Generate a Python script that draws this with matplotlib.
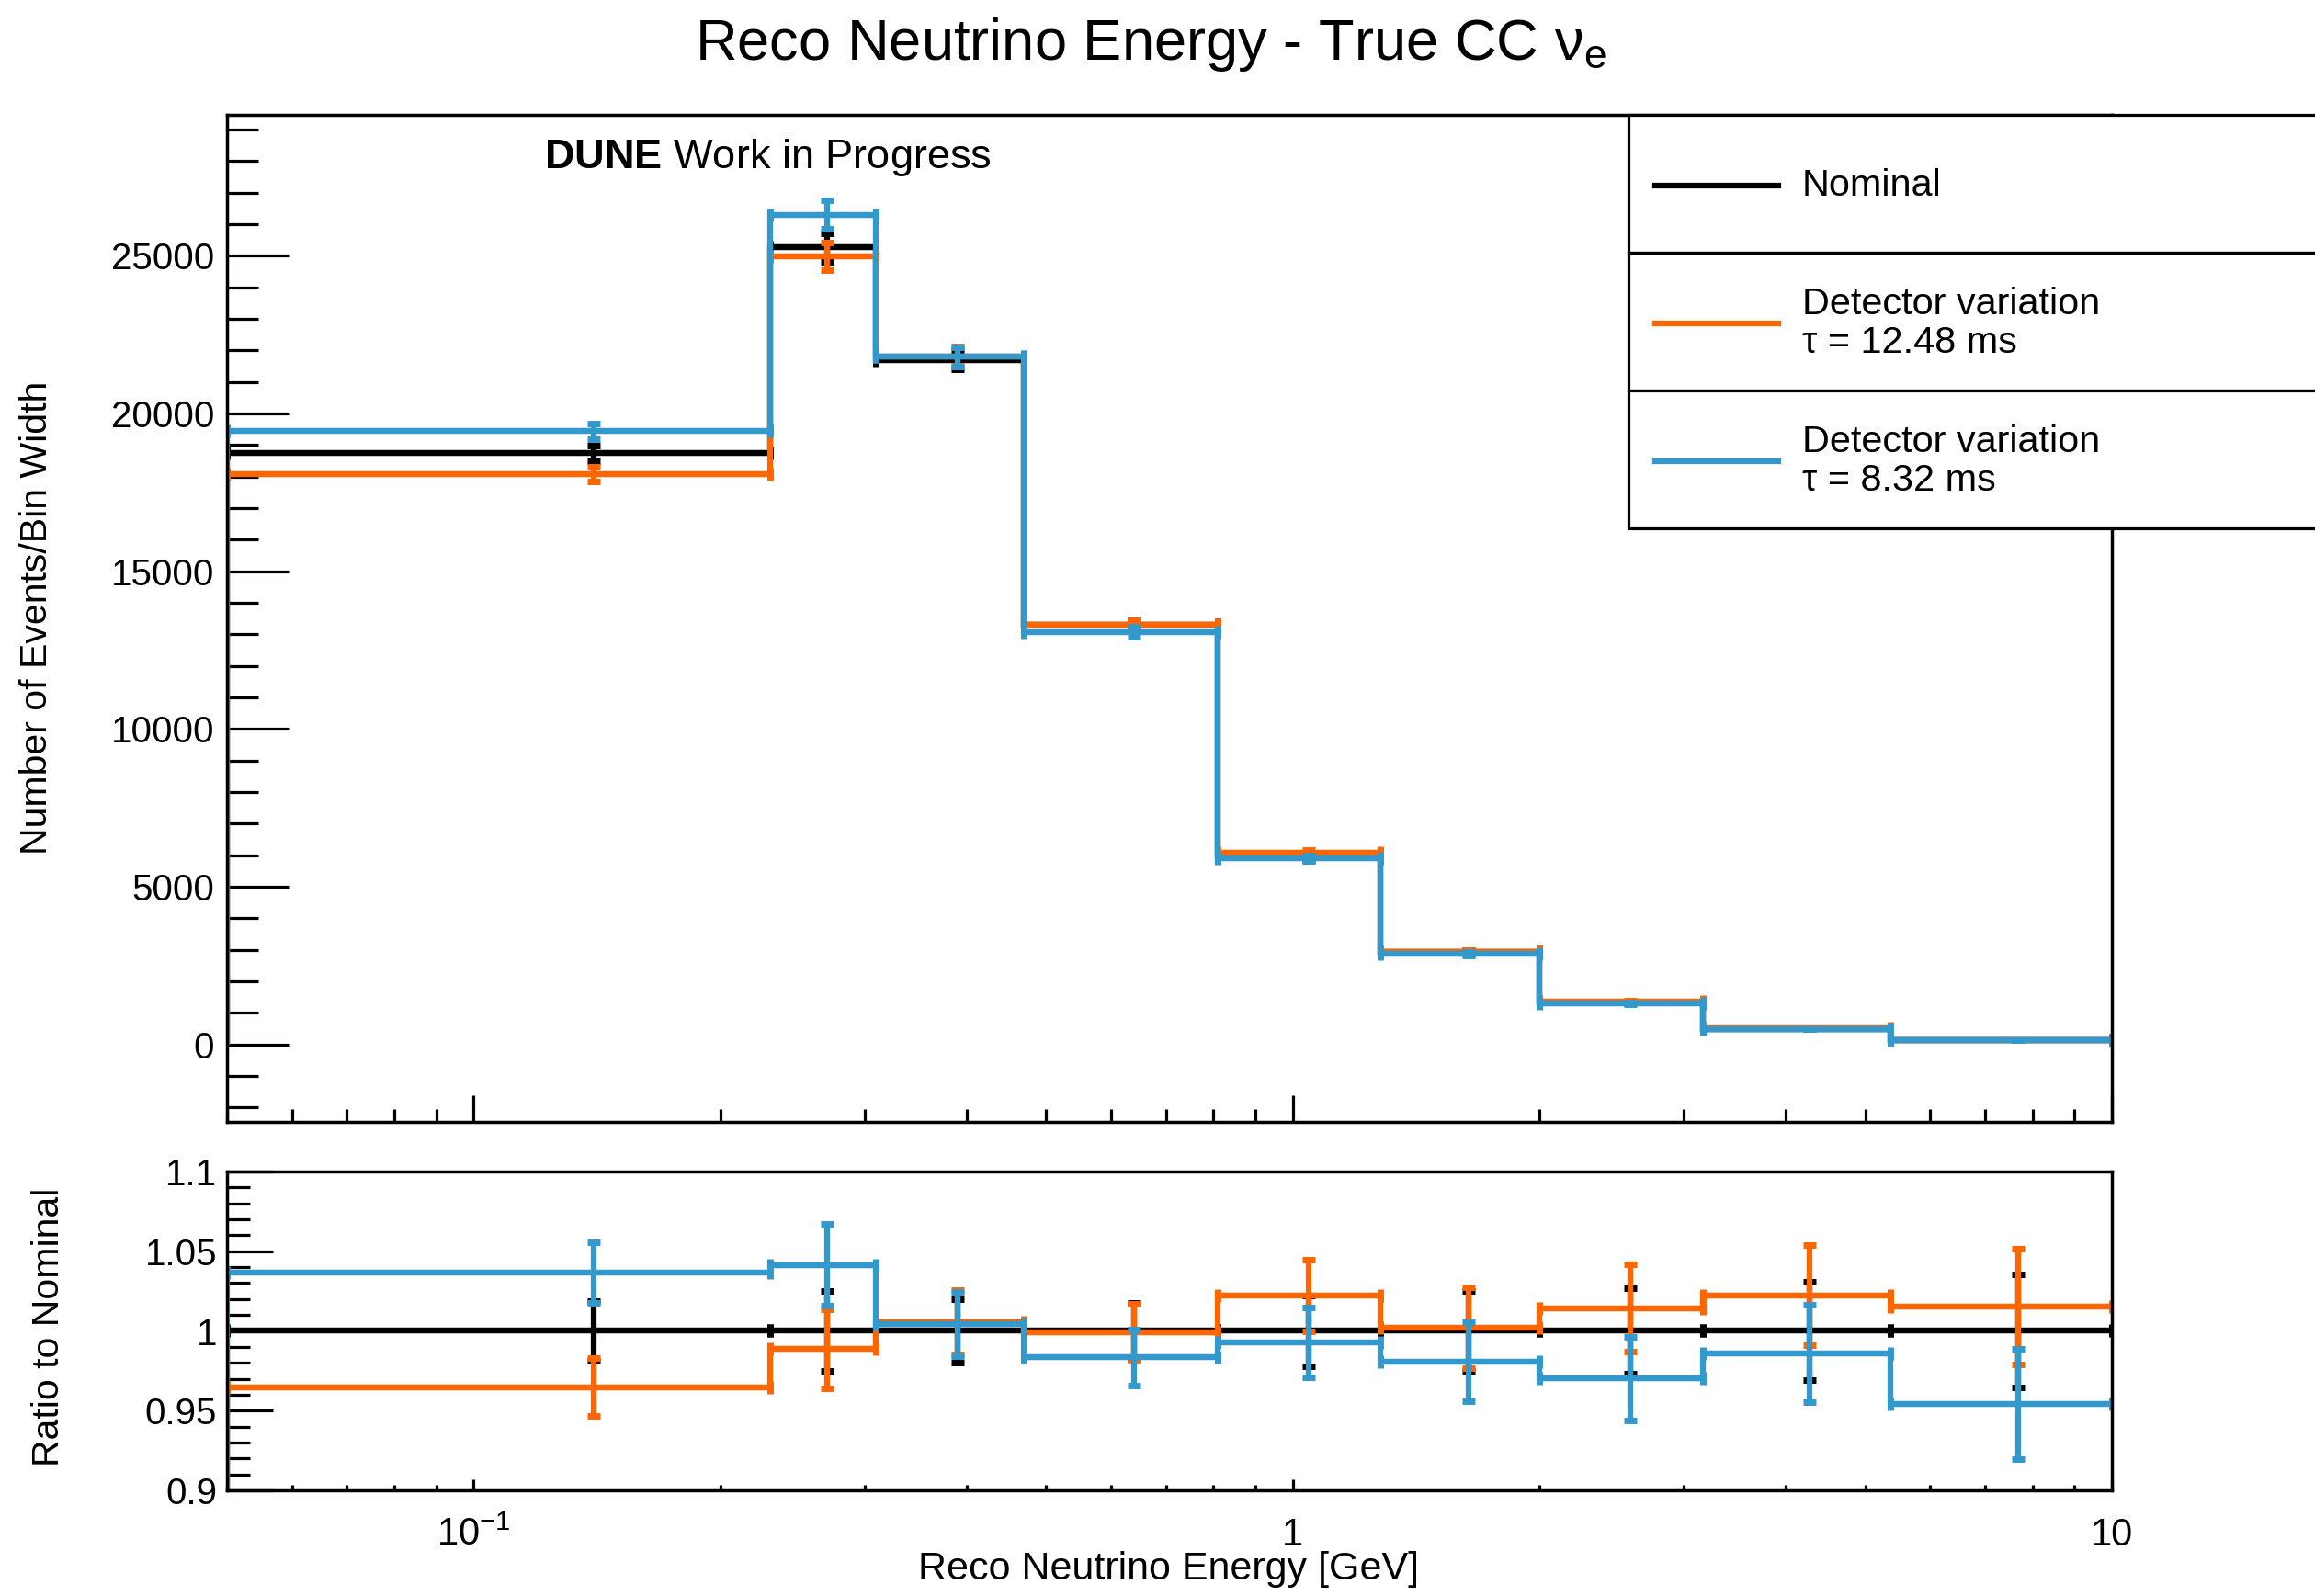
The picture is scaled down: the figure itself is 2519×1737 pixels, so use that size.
import numpy as np
import matplotlib
matplotlib.use("Agg")
from matplotlib import pyplot as plt
from matplotlib.ticker import FixedLocator, FixedFormatter, MultipleLocator, LogLocator, NullFormatter
from matplotlib.patches import Rectangle
from matplotlib.lines import Line2D

plt.rcParams['font.family'] = ['Liberation Sans', 'DejaVu Sans']
plt.rcParams['mathtext.fontset'] = 'custom'
plt.rcParams['mathtext.rm'] = 'Liberation Sans'
plt.rcParams['mathtext.it'] = 'Liberation Sans:italic'
plt.rcParams['mathtext.bf'] = 'Liberation Sans:bold'

# bins in reco energy [GeV]
edges = [0.05, 0.23, 0.31, 0.47, 0.81, 1.28, 2.0, 3.17, 5.37, 10.0]

# events / bin width
nominal = [18744, 25260, 21700, 13300, 5950, 2925, 1335, 491, 131]
nominal_err = [246, 447, 306, 165, 93, 52, 25.5, 10.7, 3.3]

tau_long = [18082, 24977, 21819, 13292, 6081, 2931, 1354, 502, 133]      # tau = 12.48 ms
tau_long_err = [242, 444, 307, 165, 94, 52, 25.7, 10.8, 3.4]

tau_short = [19434, 26306, 21795, 13078, 5907, 2869, 1295, 484, 125]     # tau = 8.32 ms
tau_short_err = [250, 456, 307, 164, 93, 51.5, 25.1, 10.6, 3.3]

c_nom = 'black'
c_long = '#ff6600'
c_short = '#3399cc'

W, H = 2519, 1737
fig = plt.figure(figsize=(W / 100, H / 100), dpi=100)

def fx(px):
    return px / W

def fy(py):
    return 1 - py / H

ax1 = fig.add_axes([fx(247), fy(1221), fx(2298 - 247), (1221 - 125) / H])
ax2 = fig.add_axes([fx(247), fy(1622), fx(2298 - 247), (1622 - 1275) / H])

e = np.array(edges)
centers = 0.5 * (e[1:] + e[:-1])
halfw = 0.5 * (e[1:] - e[:-1])
lw = 4.5


def draw(ax, vals, errs, color):
    # ROOT style: outline rises from zero at the first edge, no drop at the last one
    ax.stairs(vals, e, baseline=None, color=color, lw=lw, zorder=3)
    ax.vlines(e[0], 0, vals[0], color=color, lw=lw, zorder=3)
    ax.errorbar(centers, vals, xerr=halfw, yerr=errs, fmt='none', ecolor=color,
                elinewidth=lw, capsize=5, capthick=5, zorder=3)


nom = np.array(nominal, float)
nom_e = np.array(nominal_err, float)

draw(ax1, nominal, nominal_err, c_nom)
draw(ax1, tau_long, tau_long_err, c_long)
draw(ax1, tau_short, tau_short_err, c_short)

# ratio to nominal
for vals, errs, col in [(nominal, nominal_err, c_nom),
                        (tau_long, tau_long_err, c_long),
                        (tau_short, tau_short_err, c_short)]:
    v = np.array(vals, float)
    ev = np.array(errs, float)
    r = v / nom
    er = r * np.sqrt((ev / v) ** 2 + (nom_e / nom) ** 2)
    draw(ax2, r, er, col)

for ax in (ax1, ax2):
    ax.set_xscale('log')
    ax.set_xlim(0.05, 10)
    for s in ax.spines.values():
        s.set_linewidth(2.5)
        s.set_zorder(4)
    ax.xaxis.set_major_locator(FixedLocator([0.1, 1, 10]))
    ax.xaxis.set_minor_locator(LogLocator(base=10, subs=np.arange(2, 10)))
    ax.xaxis.set_minor_formatter(NullFormatter())
    ax.tick_params(which='both', direction='in', top=False, right=False, width=2.3)

ax1.set_ylim(-2459, 29467)
ax1.yaxis.set_major_locator(MultipleLocator(5000))
ax1.yaxis.set_minor_locator(MultipleLocator(1000))
ax1.tick_params(axis='y', which='major', length=49, labelsize=29, pad=10)
ax1.tick_params(axis='y', which='minor', length=24.5)
ax1.tick_params(axis='x', which='major', length=21, labelbottom=False)
ax1.tick_params(axis='x', which='minor', length=10)

ax2.set_ylim(0.9, 1.1)
ax2.yaxis.set_major_locator(FixedLocator([0.9, 0.95, 1.0, 1.05, 1.1]))
ax2.yaxis.set_major_formatter(FixedFormatter(['0.9', '0.95', '1', '1.05', '1.1']))
ax2.yaxis.set_minor_locator(MultipleLocator(0.01))
ax2.tick_params(axis='y', which='major', length=36, labelsize=29, pad=8)
ax2.tick_params(axis='y', which='minor', length=18)
ax2.tick_params(axis='x', which='major', length=9, labelsize=30, pad=43)
ax2.tick_params(axis='x', which='minor', length=4.5)
ax2.xaxis.set_major_formatter(FixedFormatter([r'$\mathregular{10^{-1}}$', '1', '10']))
for t in ax2.get_xticklabels():
    t.set_verticalalignment('baseline')

# titles and axis labels
fig.text(fx(1252), fy(48), r'Reco Neutrino Energy - True CC $\mathregular{\nu_{e}}$',
         ha='center', va='center', fontsize=45.5)
fig.text(fx(1272), fy(1719), 'Reco Neutrino Energy [GeV]', ha='center',
         va='baseline', fontsize=31)
fig.text(fx(40), fy(672), 'Number of Events/Bin Width', rotation=90,
         ha='center', va='center', fontsize=29.5)
fig.text(fx(53), fy(1444), 'Ratio to Nominal', rotation=90,
         ha='center', va='center', fontsize=29.5)
fig.text(fx(592), fy(172), r'$\mathbf{DUNE}$ Work in Progress', ha='left',
         va='center', fontsize=32.5)

# legend box, runs off the right edge like the original
rows = [(125, 275), (275, 425), (425, 575)]
labels = ['Nominal', 'Detector variation\nτ = 12.48 ms', 'Detector variation\nτ = 8.32 ms']
colors = [c_nom, c_long, c_short]
for (y0, y1), lab, col in zip(rows, labels, colors):
    fig.add_artist(Rectangle((fx(1772), fy(y1)), fx(2540 - 1772), (y1 - y0) / H,
                             transform=fig.transFigure, facecolor='white',
                             edgecolor='black', lw=2.3, zorder=5))
    ym = fy(0.5 * (y0 + y1) + 2)
    fig.add_artist(Line2D([fx(1801), fx(1935)], [ym, ym], color=col, lw=lw,
                          transform=fig.transFigure, zorder=6))
    fig.text(fx(1961), ym, lab, ha='left', va='center', fontsize=29.8,
             linespacing=1.12, zorder=6)

fig.savefig('out.png', dpi=100)
